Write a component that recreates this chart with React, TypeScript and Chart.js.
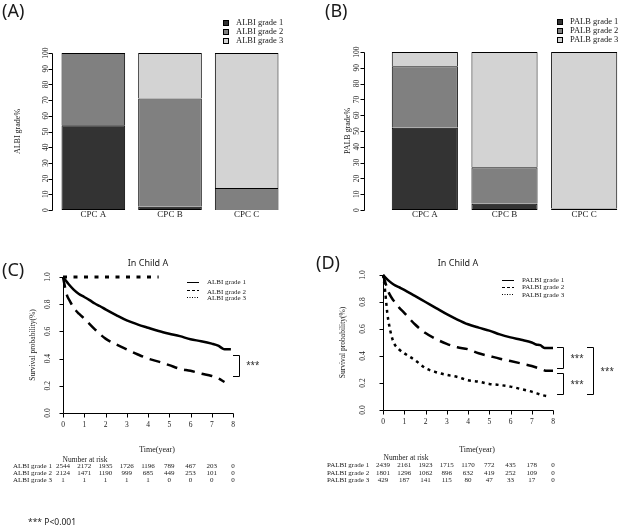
import React, { useEffect, useRef } from "react";
import { Chart, registerables } from "chart.js";

Chart.register(...registerables);

// ---------------- DATA ----------------
const CPC_CLASSES = ["CPC A", "CPC B", "CPC C"];

const ALBI_LABELS = ["ALBI grade 1", "ALBI grade 2", "ALBI grade 3"];
const ALBI_G1 = [54, 2, 0];
const ALBI_G2 = [46, 69, 14];
const ALBI_G3 = [0, 29, 86];

const PALB_LABELS = ["PALB grade 1", "PALB grade 2", "PALB grade 3"];
const PALB_G1 = [52, 4, 1];
const PALB_G2 = [39, 23, 0];
const PALB_G3 = [9, 73, 99];

const BAR_Y_TICKS = [0, 10, 20, 30, 40, 50, 60, 70, 80, 90, 100];
const KM_Y_TICKS = [0, 0.2, 0.4, 0.6, 0.8, 1.0];
const KM_Y_TICK_LABELS = ["0.0", "0.2", "0.4", "0.6", "0.8", "1.0"];
const KM_X_TICKS = [0, 1, 2, 3, 4, 5, 6, 7, 8];

// Panel C: ALBI grade in Child A
const C_LABELS = ["ALBI grade 1", "ALBI grade 2", "ALBI grade 3"];
const C_T1 = [0, 0.1, 0.25, 0.5, 0.75, 1, 1.25, 1.5, 1.75, 2, 2.5, 3, 3.5, 4, 4.5, 5, 5.5, 6, 6.5, 7, 7.3, 7.5, 7.6, 7.9];
const C_S1 = [1.0, 0.98, 0.95, 0.907, 0.875, 0.853, 0.83, 0.805, 0.785, 0.762, 0.72, 0.681, 0.652, 0.627, 0.603, 0.583, 0.565, 0.542, 0.528, 0.51, 0.495, 0.475, 0.468, 0.468];
const C_T2 = [0, 0.05, 0.1, 0.2, 0.3, 0.5, 0.75, 1, 1.5, 2, 2.5, 3, 3.5, 4, 4.5, 5, 5.5, 6, 6.5, 7, 7.3, 7.6];
const C_S2 = [1.0, 0.96, 0.92, 0.86, 0.83, 0.775, 0.73, 0.694, 0.615, 0.547, 0.505, 0.468, 0.432, 0.4, 0.378, 0.352, 0.325, 0.31, 0.29, 0.272, 0.255, 0.228];
const C_T3 = [0, 4.5];
const C_S3 = [1.0, 1.0];

const C_RISK_1 = [2544, 2172, 1935, 1726, 1196, 789, 467, 203, 0];
const C_RISK_2 = [2124, 1471, 1190, 999, 685, 449, 253, 101, 0];
const C_RISK_3 = [1, 1, 1, 1, 1, 0, 0, 0, 0];

// Panel D: PALBI grade in Child A
const D_LABELS = ["PALBI grade 1", "PALBI grade 2", "PALBI grade 3"];
const D_T1 = [0, 0.25, 0.5, 0.75, 1, 1.5, 2, 2.5, 3, 3.5, 4, 4.5, 5, 5.5, 6, 6.5, 7, 7.2, 7.4, 7.6, 8];
const D_S1 = [1.0, 0.96, 0.93, 0.91, 0.89, 0.845, 0.8, 0.755, 0.71, 0.67, 0.635, 0.61, 0.588, 0.56, 0.538, 0.52, 0.5, 0.485, 0.48, 0.46, 0.46];
const D_T2 = [0, 0.1, 0.2, 0.3, 0.5, 0.75, 1, 1.5, 2, 2.5, 3, 3.5, 4, 4.5, 5, 5.5, 6, 6.5, 7, 7.5, 7.7, 8];
const D_S2 = [1.0, 0.95, 0.9, 0.86, 0.81, 0.76, 0.72, 0.635, 0.57, 0.525, 0.49, 0.465, 0.45, 0.42, 0.4, 0.38, 0.363, 0.345, 0.326, 0.3, 0.29, 0.29];
const D_T3 = [0, 0.05, 0.1, 0.15, 0.2, 0.3, 0.4, 0.5, 0.75, 1, 1.5, 2, 2.5, 3, 3.5, 4, 4.5, 5, 5.5, 6, 6.5, 7, 7.5, 7.8];
const D_S3 = [1.0, 0.95, 0.88, 0.8, 0.72, 0.62, 0.55, 0.5, 0.45, 0.42, 0.37, 0.31, 0.28, 0.26, 0.245, 0.22, 0.21, 0.193, 0.185, 0.173, 0.155, 0.136, 0.11, 0.1];

const D_RISK_1 = [2439, 2161, 1923, 1715, 1170, 772, 435, 178, 0];
const D_RISK_2 = [1801, 1296, 1062, 896, 632, 419, 252, 109, 0];
const D_RISK_3 = [429, 187, 141, 115, 80, 47, 33, 17, 0];

// significance brackets (survival range they span)
const C_SIG = [{ hi: 0.43, lo: 0.275, label: "***" }];
const D_SIG = [
  { hi: 0.464, lo: 0.314, label: "***" },
  { hi: 0.272, lo: 0.119, label: "***" },
  { hi: 0.464, lo: 0.119, label: "***" },
];

// ---------------- STYLE ----------------
const BAR_COLORS = ["#333333", "#808080", "#d3d3d3"];
const TXT = "#1a1a1a";
const SERIF = "'Liberation Serif', serif";
const SANS = "'Noto Sans', sans-serif";

function vtext(ctx: CanvasRenderingContext2D, s: string, x: number, y: number) {
  ctx.save();
  ctx.translate(x, y);
  ctx.rotate(-Math.PI / 2);
  ctx.textAlign = "center";
  ctx.textBaseline = "middle";
  ctx.fillText(s, 0, 0);
  ctx.restore();
}

// ---------------- BAR PANELS ----------------
function barDeco(L: any) {
  return {
    id: "barDeco",
    afterDraw(chart: any) {
      const ctx: CanvasRenderingContext2D = chart.ctx;
      const xs = chart.scales.x;
      const ys = chart.scales.y;
      ctx.save();
      ctx.strokeStyle = "#000";
      ctx.lineWidth = 1;
      ctx.fillStyle = TXT;
      const ax = L.axisX + 0.5;
      ctx.beginPath();
      ctx.moveTo(ax, Math.round(ys.getPixelForValue(100)) + 0.5);
      ctx.lineTo(ax, Math.round(ys.getPixelForValue(0)) + 0.5);
      BAR_Y_TICKS.forEach((v) => {
        const p = Math.round(ys.getPixelForValue(v)) + 0.5;
        ctx.moveTo(ax, p);
        ctx.lineTo(ax - 4, p);
      });
      ctx.stroke();
      ctx.font = `7.5px ${SERIF}`;
      BAR_Y_TICKS.forEach((v) => vtext(ctx, String(v), L.tickLabelX, ys.getPixelForValue(v)));
      ctx.font = `8px ${SERIF}`;
      vtext(ctx, L.yTitle, L.yTitleX, (ys.getPixelForValue(0) + ys.getPixelForValue(100)) / 2);
      ctx.font = `9px ${SERIF}`;
      ctx.textAlign = "center";
      ctx.textBaseline = "middle";
      chart.data.labels.forEach((lab: string, i: number) => ctx.fillText(lab, xs.getPixelForValue(i), L.xLabelY));
      // legend
      ctx.font = `8.5px ${SERIF}`;
      ctx.textAlign = "left";
      chart.data.datasets.forEach((ds: any, i: number) => {
        const y = L.legY + i * L.legDy;
        ctx.fillStyle = ds.backgroundColor;
        ctx.fillRect(L.legX, y - 2.5, 5, 5);
        ctx.strokeRect(L.legX + 0.5, y - 2.5 + 0.5, 5, 5);
        ctx.fillStyle = TXT;
        ctx.fillText(ds.label, L.legTextX, y);
      });
      ctx.font = `18px ${SANS}`;
      ctx.fillText(L.panel, L.panelX, L.panelY);
      ctx.restore();
    },
  };
}

function makeBar(canvas: HTMLCanvasElement, L: any) {
  return new Chart(canvas, {
    type: "bar",
    data: {
      labels: CPC_CLASSES,
      datasets: L.series.map((d: number[], i: number) => ({
        label: L.labels[i],
        data: d,
        backgroundColor: BAR_COLORS[i],
        borderColor: "#000",
        borderWidth: 1,
        borderSkipped: i === 0 ? false : "start",
        barPercentage: L.barPct,
        categoryPercentage: 1,
      })),
    },
    options: {
      responsive: false,
      animation: false,
      devicePixelRatio: 1,
      events: [],
      layout: { padding: L.padding },
      scales: {
        x: { display: false, stacked: true },
        y: { display: false, stacked: true, min: 0, max: 100 },
      },
      plugins: { legend: { display: false }, tooltip: { enabled: false }, title: { display: false } },
    } as any,
    plugins: [barDeco(L)],
  });
}

// ---------------- KM PANELS ----------------
function kmDeco(L: any) {
  return {
    id: "kmDeco",
    afterDraw(chart: any) {
      const ctx: CanvasRenderingContext2D = chart.ctx;
      const xs = chart.scales.x;
      const ys = chart.scales.y;
      const X = (v: number) => xs.getPixelForValue(v);
      const Y = (v: number) => ys.getPixelForValue(v);
      ctx.save();
      ctx.strokeStyle = "#000";
      ctx.fillStyle = TXT;
      ctx.lineWidth = 1;
      const ax = Math.round(X(0)) + 0.5;
      const ay = Math.round(Y(0)) + 0.5;
      ctx.beginPath();
      ctx.moveTo(ax, Math.round(Y(1)) + 0.5);
      ctx.lineTo(ax, ay);
      KM_Y_TICKS.forEach((v) => {
        const p = Math.round(Y(v)) + 0.5;
        ctx.moveTo(ax, p);
        ctx.lineTo(ax - 4, p);
      });
      ctx.moveTo(ax, ay);
      ctx.lineTo(Math.round(X(8)) + 0.5, ay);
      KM_X_TICKS.forEach((v) => {
        const p = Math.round(X(v)) + 0.5;
        ctx.moveTo(p, ay);
        ctx.lineTo(p, ay + 4);
      });
      ctx.stroke();
      ctx.font = `7.5px ${SERIF}`;
      KM_Y_TICKS.forEach((v, i) => vtext(ctx, KM_Y_TICK_LABELS[i], L.tickLabelX, Y(v)));
      ctx.textAlign = "center";
      ctx.textBaseline = "middle";
      KM_X_TICKS.forEach((v) => ctx.fillText(String(v), X(v), Y(0) + 12));
      ctx.font = `7.5px ${SERIF}`;
      vtext(ctx, "Survival probability(%)", L.yTitleX, (Y(0) + Y(1)) / 2);
      // title & panel label
      ctx.font = `9px ${SANS}`;
      ctx.fillText("In Child A", L.titleX, L.titleY);
      ctx.font = `18px ${SANS}`;
      ctx.textAlign = "left";
      ctx.fillText(L.panel, L.panelX, L.panelY);
      // legend
      ctx.font = `7px ${SERIF}`;
      chart.data.datasets.forEach((ds: any, i: number) => {
        const y = L.legLineY[i];
        ctx.save();
        ctx.lineWidth = 1;
        ctx.setLineDash(L.legDash[i]);
        ctx.beginPath();
        ctx.moveTo(L.legX0, y + 0.5);
        ctx.lineTo(L.legX1, y + 0.5);
        ctx.stroke();
        ctx.restore();
        ctx.fillText(ds.label, L.legTextX, L.legTextY[i]);
      });
      // significance brackets
      ctx.font = `8px ${SANS}`;
      ctx.textAlign = "center";
      L.sig.forEach((s: any, i: number) => {
        const bx = Math.round(X(L.sigPos[i].x)) + 0.5;
        const bx0 = X(L.sigPos[i].x0);
        const y1 = Math.round(Y(s.hi)) + 0.5;
        const y2 = Math.round(Y(s.lo)) + 0.5;
        ctx.beginPath();
        ctx.moveTo(bx0, y1);
        ctx.lineTo(bx, y1);
        ctx.lineTo(bx, y2);
        ctx.lineTo(bx0, y2);
        ctx.stroke();
        ctx.fillText(s.label, X(L.sigPos[i].tx), Y((s.hi + s.lo) / 2) + 1);
      });
      // risk table
      ctx.font = `8px ${SERIF}`;
      ctx.fillText("Time(year)", L.timeX, L.timeY);
      ctx.font = `7.5px ${SERIF}`;
      ctx.fillText("Number at risk", L.narX, L.narY);
      ctx.font = `7px ${SERIF}`;
      L.risk.forEach((row: number[], r: number) => {
        ctx.textAlign = "left";
        ctx.fillText(chart.data.datasets[r].label, L.riskLabelX, L.riskY[r]);
        ctx.textAlign = "center";
        row.forEach((n, i) => ctx.fillText(String(n), X(KM_X_TICKS[i]), L.riskY[r]));
      });
      if (L.pnote) {
        ctx.font = `8.5px ${SANS}`;
        ctx.textAlign = "left";
        ctx.fillText(L.pnote, L.pnoteX, L.pnoteY);
      }
      ctx.restore();
    },
  };
}

function makeKM(canvas: HTMLCanvasElement, L: any) {
  return new Chart(canvas, {
    type: "line",
    data: {
      datasets: L.curves.map((c: any, i: number) => ({
        label: L.labels[i],
        data: c.t.map((t: number, j: number) => ({ x: t, y: c.s[j] })),
        borderColor: "#000",
        borderWidth: c.w,
        borderDash: c.dash,
        pointRadius: 0,
        fill: false,
        tension: 0,
        cubicInterpolationMode: "monotone",
        clip: false,
      })),
    },
    options: {
      responsive: false,
      animation: false,
      devicePixelRatio: 1,
      events: [],
      layout: { padding: L.padding },
      scales: {
        x: { type: "linear", display: false, min: 0, max: 8 },
        y: { display: false, min: 0, max: 1 },
      },
      plugins: { legend: { display: false }, tooltip: { enabled: false }, title: { display: false } },
    } as any,
    plugins: [kmDeco(L)],
  });
}

// ---------------- LAYOUTS ----------------
const LAYOUT_A = {
  series: [ALBI_G1, ALBI_G2, ALBI_G3],
  labels: ALBI_LABELS,
  barPct: 0.83,
  padding: { left: 55, right: 25, top: 53, bottom: 20 },
  axisX: 52,
  tickLabelX: 46,
  yTitle: "ALBI grade%",
  yTitleX: 18,
  xLabelY: 215,
  legX: 223,
  legTextX: 236,
  legY: 22.5,
  legDy: 9,
  panel: "(A)",
  panelX: 2,
  panelY: 12,
};
const LAYOUT_B = {
  series: [PALB_G1, PALB_G2, PALB_G3],
  labels: PALB_LABELS,
  barPct: 0.83,
  padding: { left: 75, right: 1, top: 52, bottom: 20 },
  axisX: 54,
  tickLabelX: 47,
  yTitle: "PALB grade%",
  yTitleX: 38,
  xLabelY: 215,
  legX: 247,
  legTextX: 260,
  legY: 21.5,
  legDy: 9,
  panel: "(B)",
  panelX: 15,
  panelY: 12,
};
const LAYOUT_C = {
  curves: [
    { t: C_T1, s: C_S1, w: 2.5, dash: [] },
    { t: C_T2, s: C_S2, w: 2.5, dash: [11, 7] },
    { t: C_T3, s: C_S3, w: 3, dash: [4, 6.5] },
  ],
  labels: C_LABELS,
  padding: { left: 63, right: 77, top: 47, bottom: 118 },
  tickLabelX: 48,
  yTitleX: 33,
  titleX: 148,
  titleY: 33,
  panel: "(C)",
  panelX: 2,
  panelY: 41,
  legX0: 187,
  legX1: 199,
  legTextX: 207,
  legLineY: [52, 60, 67],
  legTextY: [52, 62, 68.5],
  legDash: [[], [3, 2], [1, 1.5]],
  sig: C_SIG,
  sigPos: [{ x: 8.27, x0: 8.0, tx: 8.93 }],
  timeX: 157,
  timeY: 220,
  narX: 85,
  narY: 230,
  riskLabelX: 13,
  riskY: [236, 243, 250],
  risk: [C_RISK_1, C_RISK_2, C_RISK_3],
  pnote: "*** P<0.001",
  pnoteX: 28,
  pnoteY: 293,
};
const LAYOUT_D = {
  curves: [
    { t: D_T1, s: D_S1, w: 2.5, dash: [] },
    { t: D_T2, s: D_S2, w: 2.5, dash: [11, 7] },
    { t: D_T3, s: D_S3, w: 2.5, dash: [3, 4] },
  ],
  labels: D_LABELS,
  padding: { left: 73, right: 72, top: 45, bottom: 121 },
  tickLabelX: 53,
  yTitleX: 33,
  titleX: 148,
  titleY: 33,
  panel: "(D)",
  panelX: 6,
  panelY: 34,
  legX0: 192,
  legX1: 204,
  legTextX: 212,
  legLineY: [50, 57, 64],
  legTextY: [50, 57.5, 65],
  legDash: [[], [3, 2], [1, 1.5]],
  sig: D_SIG,
  sigPos: [
    { x: 8.47, x0: 8.19, tx: 9.13 },
    { x: 8.47, x0: 8.19, tx: 9.13 },
    { x: 9.88, x0: 9.6, tx: 10.55 },
  ],
  timeX: 167,
  timeY: 219.5,
  narX: 96,
  narY: 228,
  riskLabelX: 17,
  riskY: [235.5, 243, 250.5],
  risk: [D_RISK_1, D_RISK_2, D_RISK_3],
  pnote: "",
  pnoteX: 0,
  pnoteY: 0,
};

// ---------------- COMPONENTS ----------------
function Panel(props: { left: number; top: number; width: number; height: number; build: (c: HTMLCanvasElement) => Chart }) {
  const ref = useRef<HTMLCanvasElement>(null);
  useEffect(() => {
    const chart = props.build(ref.current as HTMLCanvasElement);
    return () => chart.destroy();
  }, []);
  return (
    <canvas
      ref={ref}
      width={props.width}
      height={props.height}
      style={{ position: "absolute", left: props.left, top: props.top, width: props.width, height: props.height }}
    />
  );
}

export default function App() {
  return (
    <div style={{ position: "fixed", left: 0, top: 0, width: 625, height: 531, background: "#fff", overflow: "hidden" }}>
      <Panel left={0} top={0} width={310} height={230} build={(c) => makeBar(c, LAYOUT_A)} />
      <Panel left={310} top={0} width={315} height={230} build={(c) => makeBar(c, LAYOUT_B)} />
      <Panel left={0} top={230} width={310} height={301} build={(c) => makeKM(c, LAYOUT_C)} />
      <Panel left={310} top={230} width={315} height={301} build={(c) => makeKM(c, LAYOUT_D)} />
    </div>
  );
}
